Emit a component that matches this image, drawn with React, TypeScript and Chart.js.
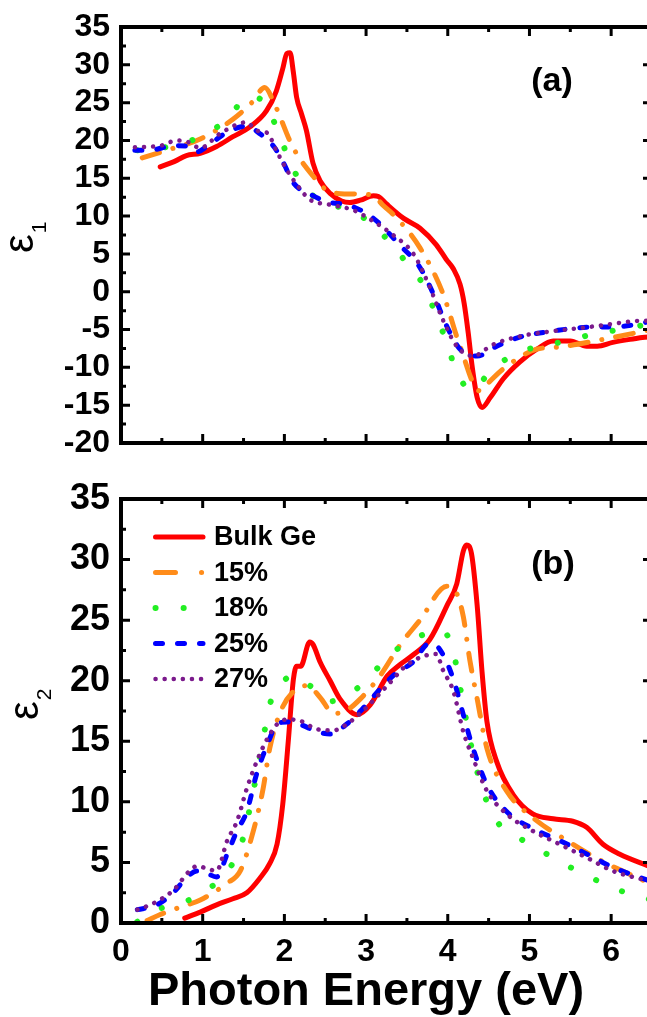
import React, { useEffect, useRef } from 'react';
import { Chart, registerables } from 'chart.js';

Chart.register(...registerables);

const FONT = "'Liberation Sans', Arial, Helvetica, sans-serif";

// ---------------- data (photon energy eV, epsilon) ----------------
const seriesLabels = ['Bulk Ge', '15%', '18%', '25%', '27%'];

const bulkEps1: [number, number][] = [
  [0.48, 16.5], [0.65, 17.2], [0.8, 18.0], [0.97, 18.3], [1.17, 19.2], [1.37, 20.5], [1.58, 21.8],
  [1.78, 23.9], [1.9, 26.5], [1.98, 29.5], [2.03, 31.5], [2.07, 31.6], [2.11, 29.0], [2.15, 25.7],
  [2.21, 23.5], [2.27, 21.3], [2.35, 17.0], [2.44, 14.6], [2.56, 13.0], [2.7, 12.0], [2.8, 11.8],
  [2.93, 12.1], [3.09, 12.7], [3.15, 12.6], [3.25, 11.6], [3.46, 9.7], [3.66, 8.4], [3.86, 6.2],
  [3.98, 4.3], [4.07, 3.0], [4.15, 1.0], [4.2, -1.5], [4.25, -5.4], [4.3, -10.0], [4.36, -14.0],
  [4.42, -15.3], [4.52, -14.0], [4.68, -11.5], [4.88, -9.3], [5.09, -7.6], [5.29, -6.5], [5.5, -6.5],
  [5.7, -7.2], [5.83, -7.2], [6.02, -6.7], [6.23, -6.3], [6.5, -5.9],
];
const pct15Eps1: [number, number][] = [
  [0.26, 17.7], [0.56, 18.7], [0.97, 20.2], [1.37, 22.8], [1.6, 25.0], [1.76, 27.0], [1.88, 24.8],
  [2.1, 19.2], [2.35, 15.3], [2.52, 13.4], [2.65, 13.0], [2.93, 12.9], [3.09, 12.7], [3.2, 11.5],
  [3.38, 9.7], [3.66, 5.8], [3.94, -0.2], [4.15, -7.2], [4.39, -13.1], [4.5, -12.0], [4.68, -10.2],
  [5.09, -7.6], [5.37, -7.3], [5.9, -6.3], [6.5, -5.0],
];
const pct18Eps1: [number, number][] = [
  [0.2, 18.7], [0.64, 19.3], [0.97, 20.5], [1.33, 23.1], [1.54, 25.8], [1.68, 25.6], [1.77, 24.9],
  [1.91, 21.5], [2.03, 18.2], [2.18, 14.8], [2.44, 12.0], [2.8, 10.8], [3.09, 8.8], [3.33, 6.0],
  [3.54, 3.2], [3.74, 0.2], [3.86, -3.3], [3.99, -6.7], [4.09, -10.2], [4.2, -12.3], [4.31, -13.0],
  [4.42, -11.8], [4.55, -10.2], [4.88, -8.0], [5.13, -7.2], [5.46, -6.5], [5.78, -5.6], [6.1, -5.0],
  [6.5, -4.2],
];
const pct25Eps1: [number, number][] = [
  [0.17, 18.7], [0.35, 18.7], [0.64, 19.3], [0.84, 19.2], [0.93, 18.5], [1.05, 19.2], [1.3, 21.1],
  [1.54, 21.9], [1.7, 20.9], [1.87, 19.2], [1.99, 17.0], [2.11, 14.4], [2.35, 12.7], [2.52, 11.9],
  [2.8, 11.4], [3.09, 9.7], [3.41, 6.2], [3.66, 3.2], [3.82, -0.2], [3.99, -4.6], [4.15, -7.6],
  [4.25, -8.3], [4.36, -8.5], [4.6, -7.2], [4.88, -6.0], [5.29, -5.2], [5.7, -4.7], [6.1, -4.6],
  [6.5, -3.9],
];
const pct27Eps1: [number, number][] = [
  [0.17, 19.1], [0.48, 19.3], [0.68, 20.0], [0.82, 19.8], [0.97, 19.0], [1.21, 20.9], [1.54, 22.4],
  [1.66, 21.3], [1.79, 21.0], [1.9, 18.7], [2.03, 16.1], [2.15, 14.2], [2.31, 12.2], [2.56, 11.5],
  [2.84, 10.8], [3.09, 9.3], [3.33, 7.5], [3.58, 5.0], [3.78, 0.6], [3.94, -3.7], [4.11, -7.2],
  [4.31, -8.5], [4.55, -7.0], [4.88, -5.9], [5.29, -5.2], [5.7, -4.7], [5.98, -4.3], [6.27, -3.9],
  [6.5, -3.8],
];

const bulkEps2: [number, number][] = [
  [0.78, 0.4], [0.97, 0.9], [1.17, 1.5], [1.37, 2.0], [1.54, 2.5], [1.7, 3.7], [1.82, 4.9],
  [1.91, 6.5], [1.98, 9.8], [2.05, 15.2], [2.11, 20.1], [2.15, 21.2], [2.2, 21.2], [2.31, 23.2],
  [2.35, 23.0], [2.44, 21.5], [2.56, 20.0], [2.68, 18.5], [2.89, 17.2], [3.05, 18.0], [3.26, 20.4],
  [3.41, 21.3], [3.57, 22.1], [3.78, 23.4], [3.99, 26.2], [4.11, 28.0], [4.19, 30.7], [4.23, 31.2],
  [4.29, 30.5], [4.36, 26.2], [4.42, 20.7], [4.48, 16.6], [4.6, 13.3], [4.8, 10.6], [5.04, 9.0],
  [5.29, 8.6], [5.53, 8.4], [5.7, 7.9], [5.9, 6.5], [6.1, 5.7], [6.5, 4.6],
];
const pct15Eps2: [number, number][] = [
  [0.32, 0.2], [0.48, 0.7], [0.72, 1.3], [0.97, 1.9], [1.3, 3.3], [1.46, 4.3], [1.62, 7.6],
  [1.74, 11.1], [1.82, 14.4], [1.95, 17.4], [2.11, 19.1], [2.28, 19.6], [2.44, 18.6], [2.6, 17.3],
  [2.75, 17.5], [2.93, 18.5], [3.17, 20.4], [3.41, 22.9], [3.66, 25.0], [3.99, 27.8], [4.11, 27.2],
  [4.19, 25.3], [4.27, 21.7], [4.36, 18.5], [4.48, 14.4], [4.72, 10.9], [5.04, 8.7], [5.46, 6.8],
  [5.86, 5.2], [6.5, 3.2],
];
const pct18Eps2: [number, number][] = [
  [0.2, 0.1], [0.44, 1.1], [0.72, 1.6], [1.05, 2.7], [1.3, 4.3], [1.46, 6.2], [1.62, 10.9],
  [1.74, 15.2], [1.82, 18.0], [1.98, 19.9], [2.11, 20.4], [2.31, 19.6], [2.56, 18.3], [2.84, 19.1],
  [3.09, 20.7], [3.38, 22.6], [3.66, 23.7], [3.94, 24.1], [4.07, 22.3], [4.19, 18.0], [4.31, 13.9],
  [4.43, 10.9], [4.6, 8.4], [4.88, 7.0], [5.21, 5.7], [5.5, 4.6], [5.83, 3.5], [6.1, 2.7], [6.5, 1.9],
];
const pct25Eps2: [number, number][] = [
  [0.2, 1.1], [0.44, 1.5], [0.64, 2.5], [0.81, 3.8], [0.93, 4.3], [1.05, 4.1], [1.17, 3.8],
  [1.3, 5.7], [1.42, 7.6], [1.54, 9.2], [1.66, 12.3], [1.79, 14.7], [1.91, 16.4], [2.03, 16.6],
  [2.19, 16.4], [2.4, 15.8], [2.56, 15.6], [2.76, 16.4], [2.96, 17.7], [3.17, 19.3], [3.38, 20.7],
  [3.57, 21.5], [3.78, 23.1], [3.9, 22.6], [4.07, 20.1], [4.19, 17.2], [4.31, 14.4], [4.48, 11.4],
  [4.72, 9.2], [5.04, 7.8], [5.37, 6.8], [5.7, 5.7], [6.02, 4.6], [6.5, 3.4],
];
const pct27Eps2: [number, number][] = [
  [0.2, 1.1], [0.39, 1.6], [0.64, 2.7], [0.84, 4.3], [0.93, 4.7], [1.05, 4.5], [1.17, 4.3],
  [1.3, 6.8], [1.42, 8.4], [1.54, 11.1], [1.66, 13.3], [1.79, 15.2], [1.91, 16.4], [2.03, 16.8],
  [2.19, 16.7], [2.4, 16.0], [2.6, 15.9], [2.76, 16.4], [2.96, 17.5], [3.26, 19.6], [3.5, 21.3],
  [3.74, 22.1], [3.86, 22.2], [3.94, 20.9], [4.07, 19.1], [4.19, 15.8], [4.31, 13.6], [4.48, 10.9],
  [4.72, 9.0], [5.04, 7.6], [5.37, 6.5], [5.7, 5.4], [6.02, 4.3], [6.5, 3.4],
];

const eps1Series = [bulkEps1, pct15Eps1, pct18Eps1, pct25Eps1, pct27Eps1];
const eps2Series = [bulkEps2, pct15Eps2, pct18Eps2, pct25Eps2, pct27Eps2];

// axis ranges / ticks
const X_MIN = 0;
const X_MAX = 6.5;
const X_STEP = 1;
const EPS1_MIN = -20;
const EPS1_MAX = 35;
const EPS2_MIN = 0;
const EPS2_MAX = 35;
const Y_STEP = 5;

// ---------------- styles ----------------
interface LineStyle { color: string; width: number; dash: number[]; legendDash: number[] }
const lineStyles: LineStyle[] = [
  { color: '#ff0000', width: 5, dash: [], legendDash: [] },
  { color: '#ff8c1a', width: 5, dash: [18, 14, 0.1, 14], legendDash: [20, 26, 0.1, 100] },
  { color: '#22ee22', width: 6, dash: [0.1, 28], legendDash: [0.1, 28] },
  { color: '#0000ff', width: 5, dash: [7, 15], legendDash: [7, 15] },
  { color: '#7b1a8c', width: 4.5, dash: [0.1, 9], legendDash: [0.1, 9] },
];

function buildDatasets(series: [number, number][][]) {
  return series.map((pts, i) => ({
    label: seriesLabels[i],
    data: pts,
    borderColor: lineStyles[i].color,
    backgroundColor: lineStyles[i].color,
    borderWidth: lineStyles[i].width,
    borderDash: lineStyles[i].dash,
    borderCapStyle: 'round' as const,
    borderJoinStyle: 'round' as const,
    pointRadius: 0,
    fill: false,
    cubicInterpolationMode: 'monotone' as const,
    order: 5 - i,
  }));
}

// ---------------- plugins ----------------
const framePlugin = {
  id: 'frame',
  afterDatasetsDraw(chart: any) {
    const { ctx, chartArea: a } = chart;
    const xs = chart.scales.x;
    const ys = chart.scales.y;
    ctx.save();
    ctx.strokeStyle = '#000';
    ctx.lineCap = 'butt';
    ctx.lineWidth = 3;
    const xMinor = X_STEP / 2;
    for (let k = 0; ; k++) {
      const v = xs.min + k * xMinor;
      if (v > xs.max + 1e-9) break;
      const px = xs.getPixelForValue(v);
      const major = Math.abs(v / X_STEP - Math.round(v / X_STEP)) < 1e-6;
      const len = major ? 9 : 5;
      ctx.beginPath();
      ctx.moveTo(px, a.bottom);
      ctx.lineTo(px, a.bottom - len);
      ctx.moveTo(px, a.top);
      ctx.lineTo(px, a.top + len);
      ctx.stroke();
    }
    const yMinor = Y_STEP / 2;
    for (let k = 0; ; k++) {
      const v = ys.min + k * yMinor;
      if (v > ys.max + 1e-9) break;
      const py = ys.getPixelForValue(v);
      const major = Math.abs(v / Y_STEP - Math.round(v / Y_STEP)) < 1e-6;
      const len = major ? 9 : 5;
      ctx.beginPath();
      ctx.moveTo(a.left, py);
      ctx.lineTo(a.left + len, py);
      ctx.moveTo(a.right, py);
      ctx.lineTo(a.right - len, py);
      ctx.stroke();
    }
    ctx.lineWidth = 4;
    ctx.strokeRect(a.left, a.top, a.right - a.left, a.bottom - a.top);
    ctx.restore();
  },
};

const decorPlugin = {
  id: 'decor',
  afterDraw(chart: any, _args: any, opts: any) {
    const { ctx } = chart;
    ctx.save();
    ctx.fillStyle = '#000';
    // y axis title: epsilon with subscript, rotated
    ctx.save();
    ctx.translate(opts.yTitleX, opts.yTitleY);
    ctx.rotate(-Math.PI / 2);
    ctx.textAlign = 'left';
    ctx.textBaseline = 'alphabetic';
    ctx.font = `42px ${FONT}`;
    ctx.fillText('ε', 0, 0);
    const w = ctx.measureText('ε').width;
    ctx.font = `21px ${FONT}`;
    ctx.fillText(opts.sub, w + 1, 13);
    ctx.restore();

    // panel label
    ctx.font = `bold 34px ${FONT}`;
    ctx.textAlign = 'center';
    ctx.textBaseline = 'middle';
    ctx.fillText(opts.panel, opts.panelX, opts.panelY);

    if (opts.legend) {
      const ds = chart.data.datasets;
      ctx.textAlign = 'left';
      ctx.textBaseline = 'middle';
      ctx.font = `bold 27px ${FONT}`;
      for (let i = 0; i < ds.length; i++) {
        const y = opts.legendY + i * opts.legendGap;
        const st = lineStyles[i];
        ctx.save();
        ctx.strokeStyle = st.color;
        ctx.lineWidth = st.width;
        ctx.lineCap = 'round';
        ctx.setLineDash(st.legendDash);
        ctx.beginPath();
        ctx.moveTo(opts.legendX + 2.5, y);
        ctx.lineTo(opts.legendX + 50, y);
        ctx.stroke();
        ctx.restore();
        ctx.fillText(ds[i].label, opts.legendX + 61, y + 1);
      }
    }

    if (opts.xTitle) {
      ctx.font = `bold 47px ${FONT}`;
      ctx.textAlign = 'center';
      ctx.textBaseline = 'alphabetic';
      ctx.fillText(opts.xTitle, opts.xTitleX, opts.xTitleY);
    }
    ctx.restore();
  },
};

// ---------------- chart factory ----------------
function makeChart(
  canvas: HTMLCanvasElement,
  series: [number, number][][],
  yMin: number,
  yMax: number,
  yFontSize: number,
  bottom: boolean,
  padTop: number,
  xAxisHeight: number,
  decor: any,
) {
  return new Chart(canvas, {
    type: 'line',
    data: { datasets: buildDatasets(series) as any },
    plugins: [framePlugin, decorPlugin],
    options: {
      responsive: false,
      animation: false,
      events: [],
      devicePixelRatio: 1,
      layout: { padding: { top: padTop, right: 8, left: 0, bottom: 0 } },
      plugins: {
        legend: { display: false },
        tooltip: { enabled: false },
        decor,
      } as any,
      scales: {
        x: {
          type: 'linear',
          min: X_MIN,
          max: X_MAX,
          grid: { display: false, drawTicks: false },
          border: { display: false },
          ticks: {
            display: bottom,
            stepSize: X_STEP,
            includeBounds: false,
            autoSkip: false,
            color: '#000',
            padding: 10,
            font: { family: FONT, size: 32, weight: 'bold' },
          },
          afterFit: (s: any) => { s.height = xAxisHeight; },
        },
        y: {
          type: 'linear',
          min: yMin,
          max: yMax,
          grid: { display: false, drawTicks: false },
          border: { display: false },
          ticks: {
            stepSize: Y_STEP,
            autoSkip: false,
            color: '#000',
            padding: 11,
            font: { family: FONT, size: yFontSize, weight: 'bold', lineHeight: 1 },
          },
          afterFit: (s: any) => { s.width = 121; },
        },
      },
    } as any,
  });
}

export default function App() {
  const topRef = useRef<HTMLCanvasElement>(null);
  const botRef = useRef<HTMLCanvasElement>(null);

  useEffect(() => {
    const c1 = makeChart(topRef.current!, eps1Series, EPS1_MIN, EPS1_MAX, 32, false, 21, 24, {
      sub: '1', yTitleX: 33, yTitleY: 253, panel: '(a)', panelX: 552, panelY: 82, legend: false,
    });
    const c2 = makeChart(botRef.current!, eps2Series, EPS2_MIN, EPS2_MAX, 36, true, 25, 94, {
      sub: '2', yTitleX: 38, yTitleY: 250, panel: '(b)', panelX: 553, panelY: 95,
      legend: true, legendX: 153, legendY: 67, legendGap: 35.5,
      xTitle: 'Photon Energy (eV)', xTitleX: 366, xTitleY: 535,
    });
    return () => { c1.destroy(); c2.destroy(); };
  }, []);

  return (
    <div style={{ position: 'absolute', left: 0, top: 0, width: 647, height: 1017, overflow: 'hidden', background: '#fff' }}>
      <canvas ref={topRef} width={660} height={470} style={{ position: 'absolute', left: 0, top: 0, display: 'block' }} />
      <canvas ref={botRef} width={660} height={547} style={{ position: 'absolute', left: 0, top: 470, display: 'block' }} />
    </div>
  );
}
